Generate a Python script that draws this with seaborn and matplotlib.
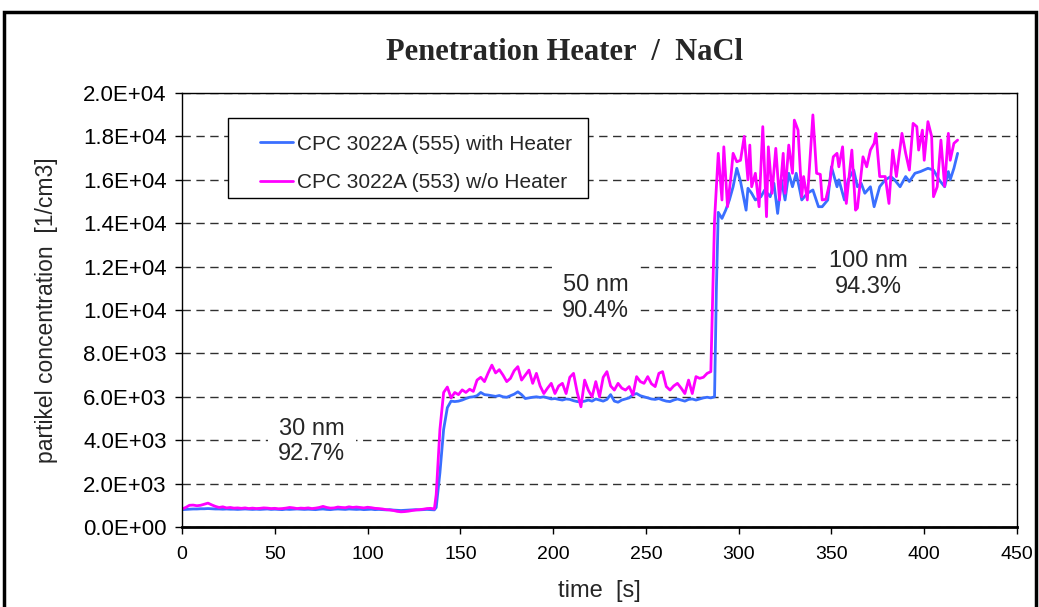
import numpy as np
import pandas as pd
import matplotlib
matplotlib.use("Agg")
import matplotlib.pyplot as plt
from matplotlib.patches import Rectangle
from matplotlib.lines import Line2D
from matplotlib.ticker import FuncFormatter, MultipleLocator
import seaborn as sns

# ---- data ----
# 30 nm step, sampled every 2 s (same grid for both counters)
t_step30 = list(range(0, 138, 2))
heater_step30 = [800, 810, 820, 830, 830, 840, 840, 850, 840, 830,
                 830, 820, 830, 820, 820, 810, 820, 830, 820, 810,
                 820, 810, 820, 830, 810, 820, 810, 800, 820, 810,
                 820, 830, 820, 810, 820, 810, 800, 820, 830, 810,
                 800, 820, 830, 820, 810, 830, 820, 810, 820, 800,
                 810, 820, 800, 810, 800, 790, 800, 780, 770, 760,
                 770, 780, 790, 800, 790, 800, 810, 800, 790]
noheater_step30 = [830, 900, 1000, 1010, 980, 1000, 1050, 1100, 1020, 950,
                   900, 930, 880, 900, 870, 880, 860, 880, 850, 870,
                   850, 860, 880, 870, 850, 860, 840, 850, 870, 900,
                   880, 850, 870, 860, 880, 850, 870, 900, 950, 900,
                   870, 880, 920, 900, 890, 930, 900, 920, 900, 880,
                   910, 890, 860, 850, 830, 800, 780, 760, 720, 700,
                   710, 730, 760, 780, 800, 820, 850, 860, 830]

# 50 nm step, sampled every 2 s
t_step50_heater = list(range(137, 289, 2))
heater_step50 = [900, 2500, 4500, 5500, 5800, 5780, 5800, 5850, 5920, 5980,
                 6000, 6050, 6200, 6100, 6080, 6050, 6020, 6060, 6000, 5980,
                 6050, 6120, 6230, 6100, 5920, 5950, 5980, 6000, 5970, 6000,
                 5950, 5900, 5920, 5880, 5850, 5900, 5880, 5820, 5780, 5770,
                 5800, 5850, 5800, 5900, 5850, 5800, 5880, 6100, 5800, 5750,
                 5850, 5900, 5950, 6100, 6150, 6050, 6000, 5950, 5900, 5880,
                 5920, 5850, 5800, 5780, 5850, 5900, 5850, 5800, 5880, 5900,
                 5850, 5900, 5950, 5980, 5950, 6000]
t_step50_noheater = list(range(137, 287, 2))
noheater_step50 = [1500, 4500, 6200, 6450, 5950, 6200, 6100, 6320, 6200, 6350,
                   6250, 6770, 6900, 6700, 7100, 7460, 7100, 7250, 7000, 6700,
                   6850, 7200, 7390, 6770, 7000, 7230, 6620, 7080, 6500, 6150,
                   6400, 6620, 6150, 6500, 6620, 6150, 6900, 7080, 6200, 5540,
                   6770, 6300, 6000, 6700, 6000, 6900, 7160, 6500, 6310, 6620,
                   6400, 6310, 6470, 6080, 6930, 6700, 6620, 6930, 6600, 6470,
                   7080, 7160, 6470, 6310, 6500, 6620, 6400, 6150, 6770, 6150,
                   6930, 6850, 6900, 7080, 7160]

# 100 nm step, irregular readings
t_step100_heater = [288, 289, 291, 293, 295, 297, 299, 301, 304, 305,
                    307, 309, 312, 314, 317, 319, 321, 323, 325, 327,
                    329, 331, 333, 334, 337, 340, 343, 345, 348, 350,
                    353, 354, 357, 359, 362, 364, 366, 368, 371, 373,
                    376, 379, 382, 384, 387, 390, 392, 395, 398, 402,
                    405, 408, 411, 413, 414, 416, 418]
heater_step100 = [11000, 14500, 14220, 14600, 15070, 15680, 16530, 15920, 14600, 15610,
                  15380, 15070, 15220, 15530, 15220, 15840, 14450, 16000, 15070, 16300,
                  15680, 16300, 15500, 15070, 15380, 15530, 14760, 14760, 15070, 16600,
                  15680, 16000, 15070, 16000, 16450, 15680, 15840, 15380, 15680, 14760,
                  15680, 16000, 16150, 16000, 15680, 16150, 15920, 16300, 16380, 16530,
                  16450, 16000, 15680, 16380, 16000, 16530, 17220]
t_step100_noheater = [287, 289, 291, 292, 294, 296, 297, 299, 301, 303,
                      305, 306, 307, 309, 311, 313, 315, 316, 318, 320,
                      322, 324, 325, 327, 329, 330, 332, 334, 335, 337,
                      340, 342, 344, 345, 347, 349, 351, 353, 354, 356,
                      358, 361, 363, 364, 367, 369, 371, 373, 374, 376,
                      379, 381, 383, 385, 388, 390, 392, 394, 396, 397,
                      399, 400, 402, 404, 405, 407, 409, 411, 413, 414,
                      416, 418]
noheater_step100 = [14150, 17220, 15070, 17520, 14760, 16300, 17220, 16830, 16900, 18000,
                    16000, 17600, 15680, 16300, 14760, 18450, 14300, 17520, 15380, 17450,
                    15070, 17220, 15380, 17600, 16300, 18750, 18290, 15220, 16150, 15070,
                    18990, 16300, 16250, 15070, 15100, 15840, 17060, 17220, 16600, 17520,
                    14910, 17370, 14600, 14700, 17060, 16600, 17370, 17680, 18140, 16150,
                    16150, 14910, 17370, 16150, 18140, 17220, 16450, 18600, 18450, 17370,
                    18290, 16900, 18680, 18000, 15220, 15680, 17830, 15700, 18140, 16900,
                    17680, 17830]

label_heater = "CPC 3022A (555) with Heater"
label_noheater = "CPC 3022A (553) w/o Heater"
step_labels = ["30 nm\n92.7%", "50 nm\n90.4%", "100 nm\n94.3%"]
step_label_x = [70, 223, 370]
step_label_y = [3950, 10550, 11650]

df = pd.concat([
    pd.DataFrame({"time": t_step30 + t_step50_heater + t_step100_heater,
                  "conc": heater_step30 + heater_step50 + heater_step100,
                  "series": label_heater}),
    pd.DataFrame({"time": t_step30 + t_step50_noheater + t_step100_noheater,
                  "conc": noheater_step30 + noheater_step50 + noheater_step100,
                  "series": label_noheater}),
])

# ---- plot ----
sns.set_style("white")
plt.rcParams["font.family"] = ["Liberation Sans", "DejaVu Sans"]

fig = plt.figure(figsize=(10.39, 6.07), dpi=100)
ax = fig.add_axes([182 / 1039, 1 - 527 / 607, (1017 - 182) / 1039, (527 - 93) / 607])

colors = {label_heater: "#3a6fff", label_noheater: "#ff00ff"}
sns.lineplot(data=df, x="time", y="conc", hue="series", estimator=None,
             palette=colors, linewidth=2, ax=ax, legend=False)

ax.set_xlim(0, 450)
ax.set_ylim(0, 20000)
ax.xaxis.set_major_locator(MultipleLocator(50))
ax.yaxis.set_major_locator(MultipleLocator(2000))
ax.yaxis.set_major_formatter(FuncFormatter(lambda v, p: f"{v:.1E}"))
ax.tick_params(axis="both", direction="out", length=5, width=1,
               colors="black", left=True, bottom=True)
ax.tick_params(axis="x", labelsize=14, pad=9)
ax.tick_params(axis="y", labelsize=16, pad=6)
ax.grid(axis="y", color="#303030", linestyle=(0, (6, 4)), linewidth=1)
ax.set_axisbelow(True)
for s in ax.spines.values():
    s.set_color("black")
    s.set_linewidth(1)
ax.spines["bottom"].set_linewidth(2)

ax.set_xlabel("time  [s]", fontsize=17)
ax.set_ylabel("partikel concentration  [1/cm3]", fontsize=16.5)
ax.xaxis.set_label_coords(0.5, -0.123)
ax.yaxis.set_label_coords(-0.149, 0.5)

for txt, x, y in zip(step_labels, step_label_x, step_label_y):
    ax.text(x, y, txt, ha="center", va="center", fontsize=17, linespacing=1.2,
            zorder=3, bbox=dict(boxstyle="square,pad=0.45", facecolor="white", edgecolor="none"))

# legend: white box with black frame, entries drawn by the legend itself
ax.add_patch(Rectangle((0.055, 0.758), 0.431, 0.184, transform=ax.transAxes,
                       facecolor="white", edgecolor="black", lw=1, zorder=4))
handles = [Line2D([], [], color=colors[label_heater], lw=2),
           Line2D([], [], color=colors[label_noheater], lw=2)]
leg = ax.legend(handles, [label_heater, label_noheater], loc="upper left",
                bbox_to_anchor=(0.093, 0.904), fontsize=15, frameon=False,
                borderpad=0, labelspacing=0.95, handlelength=1.6,
                handletextpad=0.2, borderaxespad=0)
leg.set_zorder(5)

fig.text(564 / 1039, 1 - 52 / 607, "Penetration Heater  /  NaCl", ha="center", va="center",
         fontsize=22, fontweight="bold", family=["Liberation Serif", "DejaVu Serif"])

fig.add_artist(Rectangle((4 / 1039, -0.05), 1032 / 1039, 1 - 12 / 607 + 0.05,
                         transform=fig.transFigure, fill=False, lw=2.5, ec="black"))

fig.savefig("out.png", dpi=100)
